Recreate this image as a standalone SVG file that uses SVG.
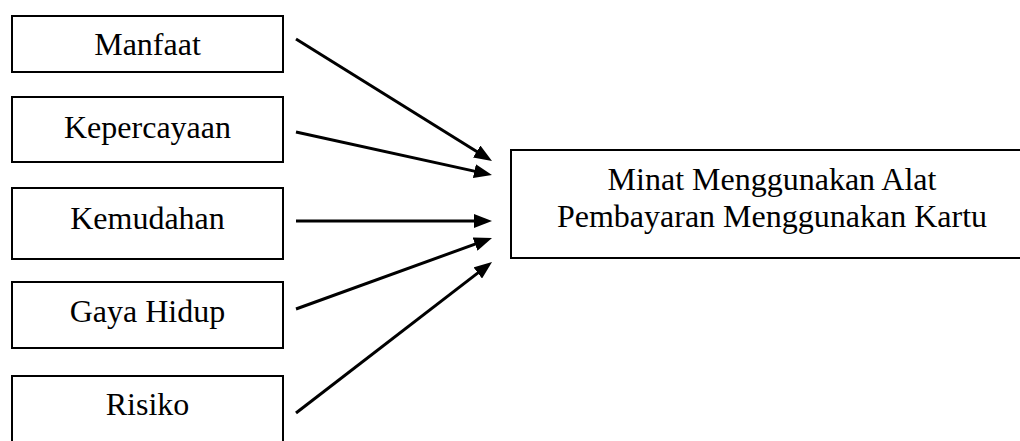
<svg xmlns="http://www.w3.org/2000/svg" width="1020" height="441" viewBox="0 0 1020 441">
<style>
.box{fill:#fff;stroke:#000;stroke-width:2}
.lbl{font-family:"Liberation Serif","Times New Roman",serif;font-size:32px;fill:#000;text-anchor:middle}
.conn{stroke:#000;stroke-width:3;fill:none;marker-end:url(#ah)}
</style>
<defs>
<marker id="ah" viewBox="0 0 18 14" refX="8" refY="7" markerWidth="18" markerHeight="14" markerUnits="userSpaceOnUse" orient="auto">
<path d="M0,0 L18,7 L0,14 z" fill="#000"/>
</marker>
</defs>
<rect width="1020" height="441" fill="#fff"/>
<g id="manfaat"><rect class="box" x="12" y="16" width="271" height="56"/><text class="lbl" x="147.5" y="55">Manfaat</text></g>
<g id="kepercayaan"><rect class="box" x="12" y="97" width="271" height="65"/><text class="lbl" x="147.5" y="138">Kepercayaan</text></g>
<g id="kemudahan"><rect class="box" x="12" y="188" width="271" height="71"/><text class="lbl" x="147.5" y="229">Kemudahan</text></g>
<g id="gaya-hidup"><rect class="box" x="12" y="282" width="271" height="66"/><text class="lbl" x="147.5" y="322">Gaya Hidup</text></g>
<g id="risiko"><rect class="box" x="12" y="376" width="271" height="80"/><text class="lbl" x="147.5" y="415">Risiko</text></g>
<g id="minat"><rect class="box" x="511" y="150" width="522" height="108"/><text class="lbl" x="772" y="190">Minat Menggunakan Alat</text><text class="lbl" x="772" y="227">Pembayaran Menggunakan Kartu</text></g>
<g id="connectors">
<line class="conn" x1="296" y1="39" x2="483.5" y2="155.7"/>
<line class="conn" x1="296" y1="132" x2="482.2" y2="172.9"/>
<line class="conn" x1="296" y1="221" x2="482" y2="221"/>
<line class="conn" x1="296" y1="309" x2="482.6" y2="241.4"/>
<line class="conn" x1="296" y1="413" x2="484.1" y2="268.1"/>
</g>
</svg>
